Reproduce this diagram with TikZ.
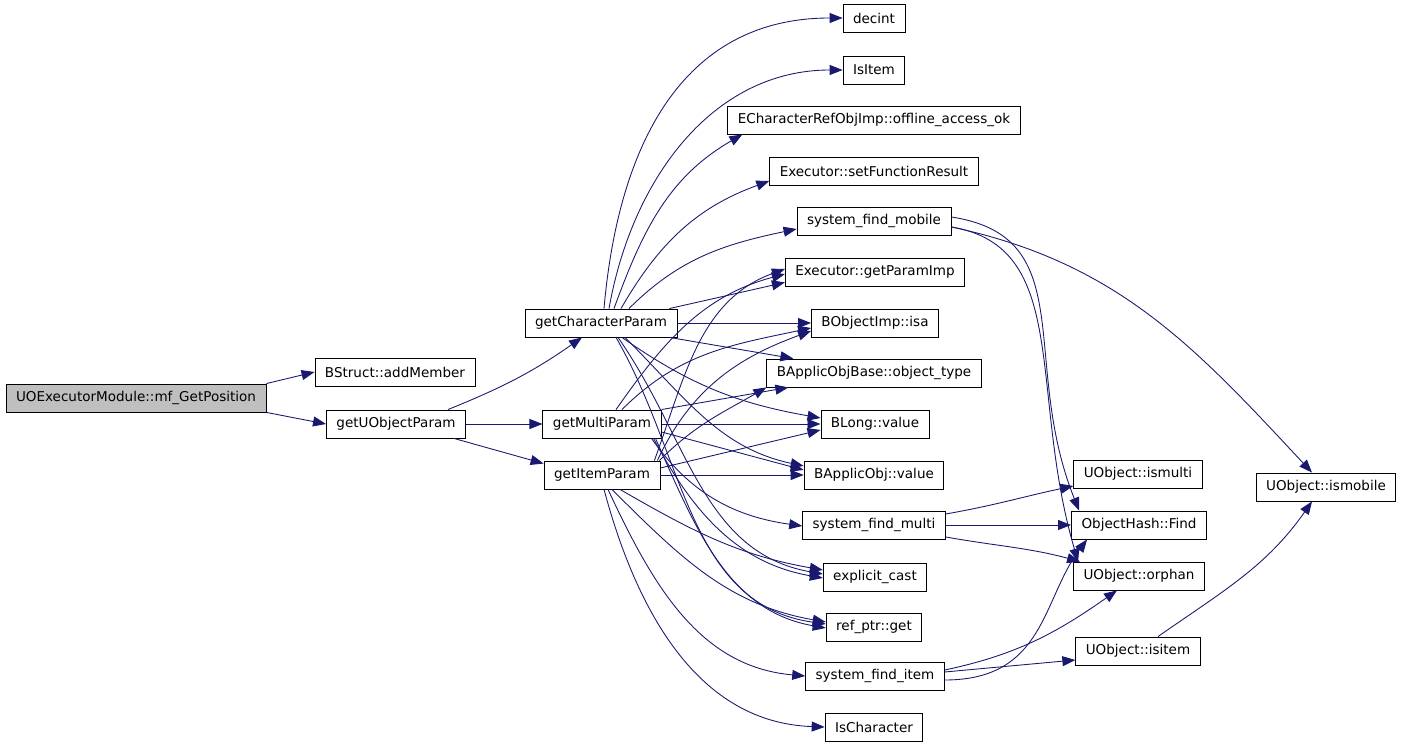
\documentclass[tikz,border=0pt]{standalone}
\usepackage{fontspec}
\setmainfont{DejaVu Sans}
\usetikzlibrary{arrows.meta,calc}
\definecolor{cEdge}{HTML}{191970}
\definecolor{cRoot}{HTML}{BFBFBF}

\begin{document}
\begin{tikzpicture}[
  x=0.02cm,y=0.02cm,
  fn/.style={draw,fill=white,line width=0.5pt,font=\fontsize{7.7}{9}\selectfont,
             minimum height=0.56cm,inner xsep=0.2cm,inner ysep=0pt},
  root/.style={fn,fill=cRoot},
  call/.style={-{Triangle[length=0.26cm,width=0.2cm]},draw=cEdge,
               line width=0.5pt},
  ]
  \useasboundingbox (0,0) rectangle (1403,747);

  % callers
  \node[root] (mfgp) at (136,349) {UOExecutorModule::mf\_GetPosition};
  \node[fn] (addm) at (395,375) {BStruct::addMember};
  \node[fn] (guop) at (396,323) {getUObjectParam};
  \node[fn] (gcp)  at (601,424) {getCharacterParam};
  \node[fn] (gmp)  at (602,323) {getMultiParam};
  \node[fn] (gip)  at (602,272) {getItemParam};

  % middle column
  \node[fn] (decint) at (874,729) {decint};
  \node[fn] (isitm)  at (874,677) {IsItem};
  \node[fn] (offl)   at (874,627) {ECharacterRefObjImp::offline\_access\_ok};
  \node[fn] (setfr)  at (874,576) {Executor::setFunctionResult};
  \node[fn] (sfmob)  at (874,526) {system\_find\_mobile};
  \node[fn] (gpi)    at (875,475) {Executor::getParamImp};
  \node[fn] (isa)    at (875,424) {BObjectImp::isa};
  \node[fn] (otype)  at (874,374) {BApplicObjBase::object\_type};
  \node[fn] (blong)  at (875,323) {BLong::value};
  \node[fn] (bapp)   at (874,272) {BApplicObj::value};
  \node[fn] (sfmul)  at (874,222) {system\_find\_multi};
  \node[fn] (ecast)  at (875,170) {explicit\_cast};
  \node[fn] (refp)   at (874,120) {ref\_ptr::get};
  \node[fn] (sfitem) at (875,71)  {system\_find\_item};
  \node[fn] (ischar) at (874,20)  {IsCharacter};

  % right side
  \node[fn] (ismulti) at (1138,273) {UObject::ismulti};
  \node[fn] (find)    at (1139,222) {ObjectHash::Find};
  \node[fn] (orphan)  at (1139,171) {UObject::orphan};
  \node[fn] (uisitem) at (1138,96)  {UObject::isitem};
  \node[fn] (ismob)   at (1326,260) {UObject::ismobile};

  \draw[call] (mfgp.north east) -- (addm.west);
  \draw[call] (mfgp.south east) -- (guop.west);
  \draw[call] ($(guop.north east)+(-18,0)$) to[out=22,in=-145] ($(gcp.south)+(-19,0)$);
  \draw[call] (guop.east) -- (gmp.west);
  \draw[call] ($(guop.south east)+(-12,0)$) -- ($(gip.north west)+(0,-3)$);

  % getCharacterParam
  \draw[call] ($(gcp.north)+(3,0)$)  to[out=85,in=180,looseness=1.1] (decint.west);
  \draw[call] ($(gcp.north)+(8,0)$)  to[out=80,in=180] (isitm.west);
  \draw[call] ($(gcp.north)+(13,0)$) to[out=70,in=-150] ($(offl.south west)+(15,0)$);
  \draw[call] ($(gcp.north)+(20,0)$) to[out=60,in=-160] ($(setfr.west)+(0,-10)$);
  \draw[call] ($(gcp.north)+(28,0)$) to[out=45,in=-168] ($(sfmob.west)+(0,-8)$);
  \draw[call] ($(gcp.north east)+(-8,0)$) -- ($(gpi.south west)+(0,4)$);
  \draw[call] (gcp.east) -- (isa.west);
  \draw[call] ($(gcp.south east)+(-8,0)$) -- ($(otype.north west)+(27,0)$);
  \draw[call] ($(gcp.south)+(21,0)$) to[out=-35,in=170] ($(blong.west)+(0,6)$);
  \draw[call] ($(gcp.south)+(24,0)$) to[out=-45,in=168] ($(bapp.west)+(0,9)$);
  \draw[call] ($(gcp.south)+(17,0)$) to[out=-55,in=170] ($(ecast.west)+(0,3)$);
  \draw[call] ($(gcp.south)+(15,0)$) to[out=-60,in=172] ($(refp.west)+(0,3)$);

  % getMultiParam
  \draw[call] ($(gmp.north)+(14,0)$) to[out=55,in=-165] ($(gpi.west)+(0,-2)$);
  \draw[call] ($(gmp.north)+(20,0)$) to[out=45,in=-168] ($(isa.west)+(0,-5)$);
  \draw[call] (gmp.north east) -- ($(otype.south west)+(22,0)$);
  \draw[call] (gmp.east) -- (blong.west);
  \draw[call] ($(gmp.east)+(0,-8)$) -- ($(bapp.west)+(0,5)$);
  \draw[call] ($(gmp.south east)+(-10,0)$) to[out=-55,in=172] ($(sfmul.west)+(0,-1)$);
  \draw[call] ($(gmp.south east)+(-8,0)$) to[out=-62,in=170] ($(ecast.west)+(0,-1)$);
  \draw[call] ($(gmp.south east)+(-6,0)$) to[out=-66,in=170] ($(refp.west)+(0,-1)$);

  % getItemParam
  \draw[call] ($(gip.north east)+(-6,0)$) to[out=70,in=-160] ($(gpi.west)+(0,3)$);
  \draw[call] ($(gip.north east)+(-3,0)$) to[out=65,in=-160] ($(isa.west)+(0,-8)$);
  \draw[call] ($(gip.north east)+(-1,0)$) to[out=45,in=-150] (otype.south west);
  \draw[call] ($(gip.east)+(0,7)$) -- ($(blong.west)+(0,-6)$);
  \draw[call] (gip.east) -- (bapp.west);
  \draw[call] ($(gip.south)+(18,0)$) to[out=-30,in=170] ($(ecast.west)+(0,7)$);
  \draw[call] ($(gip.south)+(10,0)$) to[out=-45,in=170] ($(refp.west)+(0,5)$);
  \draw[call] ($(gip.south)+(6,0)$)  to[out=-65,in=175] (sfitem.west);
  \draw[call] ($(gip.south)+(2,0)$)  to[out=-75,in=178] (ischar.west);

  % system_find_*
  \draw[call] ($(sfmob.east)+(0,4)$) .. controls +(130,-20) and +(-60,150) .. ($(find.north west)+(8,0)$);
  \draw[call] ($(sfmob.east)+(0,-6)$) .. controls +(120,-20) and +(-50,170) .. ($(orphan.north west)+(5,0)$);
  \draw[call] ($(sfmob.east)+(0,-6)$) to[out=-12,in=133] ($(ismob.north)+(-14,0)$);
  \draw[call] ($(sfmul.east)+(0,11)$) to[out=10,in=-168] ($(ismulti.west)+(0,-12)$);
  \draw[call] (sfmul.east) -- (find.west);
  \draw[call] ($(sfmul.east)+(0,-12)$) to[out=-10,in=165] ($(orphan.north west)+(7,0)$);
  \draw[call] ($(sfitem.east)+(0,-4)$) .. controls +(100,0) and +(-45,-60) .. ($(find.south west)+(16,0)$);
  \draw[call] ($(sfitem.east)+(0,6)$) to[out=12,in=-145] ($(orphan.south)+(-22,0)$);
  \draw[call] ($(sfitem.east)+(0,4)$) -- ($(uisitem.west)+(0,-9)$);
  \draw[call] ($(uisitem.north)+(20,0)$) to[out=35,in=-125] ($(ismob.south)+(-14,0)$);
\end{tikzpicture}
\end{document}
